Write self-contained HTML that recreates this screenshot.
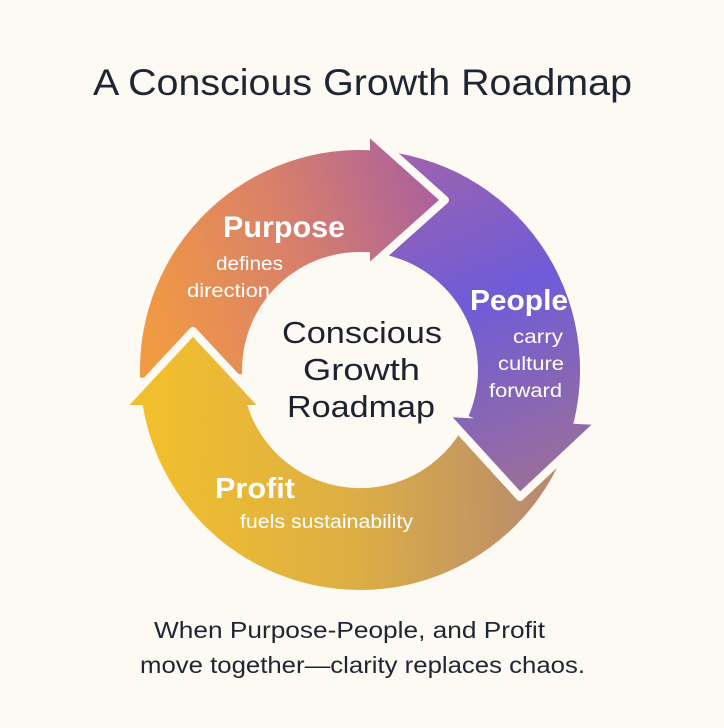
<!DOCTYPE html>
<html><head><meta charset="utf-8"><style>
html,body{margin:0;padding:0;background:#fdf9f3;}
svg{display:block;}
text{font-family:"Liberation Sans",sans-serif;}
</style></head><body>
<svg width="724" height="728" viewBox="0 0 724 728" xmlns="http://www.w3.org/2000/svg">
<defs>
<linearGradient id="gPur" gradientUnits="userSpaceOnUse" x1="140" y1="300" x2="445" y2="200">
<stop offset="0" stop-color="#f09a42"/><stop offset="0.5" stop-color="#d9806a"/><stop offset="1" stop-color="#a95f9f"/>
</linearGradient>
<linearGradient id="gPeo" gradientUnits="userSpaceOnUse" x1="400" y1="160" x2="540" y2="490">
<stop offset="0" stop-color="#9c63ae"/><stop offset="0.45" stop-color="#6f5bd8"/><stop offset="1" stop-color="#9c6f98"/>
</linearGradient>
<linearGradient id="gPro" gradientUnits="userSpaceOnUse" x1="150" y1="480" x2="560" y2="470">
<stop offset="0" stop-color="#f2bf2c"/><stop offset="0.5" stop-color="#dcae45"/><stop offset="1" stop-color="#b58872"/>
</linearGradient>
</defs>
<rect width="724" height="728" fill="#fdf9f3"/>
<text x="93" y="95" font-size="37" fill="#1e2533" textLength="539" lengthAdjust="spacingAndGlyphs">A Conscious Growth Roadmap</text>

<!-- bodies -->
<path d="M140.1,377.7 A220,220 0 0 1 379.2,150.8 L370.3,252.4 A118,118 0 0 0 242.1,374.1 Z" fill="url(#gPur)"/>
<path d="M557.7,466.4 A220,220 0 0 1 140.8,389.2 L242.4,380.3 A118,118 0 0 0 466.1,421.7 Z" fill="url(#gPro)"/>
<path d="M398.2,153.3 A220,220 0 0 1 562.5,456 L468.6,416.1 A118,118 0 0 0 380.5,253.8 Z" fill="url(#gPeo)"/>

<!-- arrowheads -->
<polygon points="124,405 193,331 262,405" fill="url(#gPro)"/>
<polyline points="124,405 193,331 262,405" fill="none" stroke="#fdf9f3" stroke-width="8" stroke-linejoin="round"/>
<polygon points="447,417 597,425 520,497" fill="url(#gPeo)"/>
<polyline points="447,417 520,497 597,425" fill="none" stroke="#fdf9f3" stroke-width="8" stroke-linejoin="round"/>
<polygon points="370,133 445,200 370,267" fill="url(#gPur)"/>
<polyline points="370,133 445,200 370,267" fill="none" stroke="#fdf9f3" stroke-width="8" stroke-linejoin="round"/>

<!-- segment labels -->
<text x="223" y="237" font-size="30" font-weight="bold" fill="#fff" textLength="122" lengthAdjust="spacingAndGlyphs">Purpose</text>
<text x="216" y="270" font-size="19" fill="#fff" textLength="67" lengthAdjust="spacingAndGlyphs">defines</text>
<text x="187" y="297" font-size="19" fill="#fff" textLength="83" lengthAdjust="spacingAndGlyphs">direction</text>

<text x="470" y="310" font-size="29" font-weight="bold" fill="#fff" textLength="98" lengthAdjust="spacingAndGlyphs">People</text>
<text x="513" y="343" font-size="19" fill="#fff" textLength="50" lengthAdjust="spacingAndGlyphs">carry</text>
<text x="498" y="370" font-size="19" fill="#fff" textLength="66" lengthAdjust="spacingAndGlyphs">culture</text>
<text x="489" y="397" font-size="19" fill="#fff" textLength="73" lengthAdjust="spacingAndGlyphs">forward</text>

<text x="215" y="498" font-size="29" font-weight="bold" fill="#fff" textLength="80" lengthAdjust="spacingAndGlyphs">Profit</text>
<text x="240" y="528" font-size="19" fill="#fff" textLength="173" lengthAdjust="spacingAndGlyphs">fuels sustainability</text>

<!-- center -->
<text x="282" y="343" font-size="31" fill="#1c2230" textLength="160" lengthAdjust="spacingAndGlyphs">Conscious</text>
<text x="303" y="380" font-size="31" fill="#1c2230" textLength="117" lengthAdjust="spacingAndGlyphs">Growth</text>
<text x="287" y="417" font-size="31" fill="#1c2230" textLength="148" lengthAdjust="spacingAndGlyphs">Roadmap</text>

<!-- caption -->
<text x="154" y="638" font-size="23" fill="#1e2533" textLength="391" lengthAdjust="spacingAndGlyphs">When Purpose-People, and Profit</text>
<text x="140" y="673" font-size="23" fill="#1e2533" textLength="445" lengthAdjust="spacingAndGlyphs">move together—clarity replaces chaos.</text>
</svg>
</body></html>
